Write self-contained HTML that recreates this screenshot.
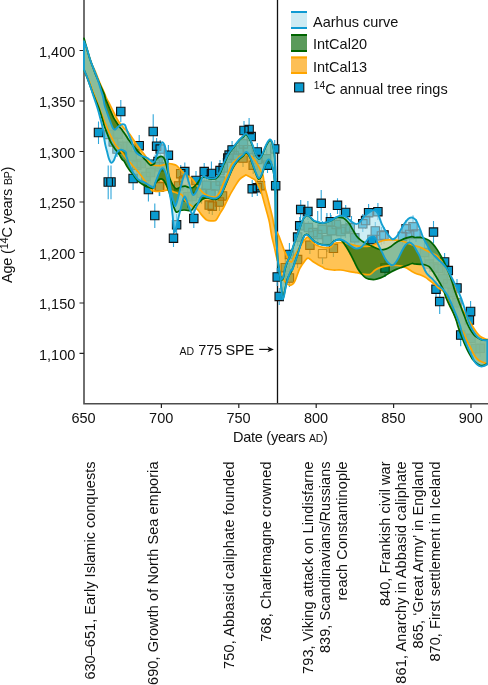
<!DOCTYPE html>
<html><head><meta charset="utf-8">
<style>
html,body{margin:0;padding:0;background:#fff;width:488px;height:685px;overflow:hidden}
svg{position:absolute;left:0;top:0;display:block;will-change:transform}
text{font-family:"Liberation Sans",sans-serif;fill:#111}
</style></head>
<body>
<svg width="488" height="685" viewBox="0 0 488 685">
<!-- AXESBG -->
<g stroke="#4d4d4d" stroke-width="1.6" fill="none">
<path d="M84,0 V403.8 H488"/>
</g>
<g stroke="#222" stroke-width="1.2">
<path d="M79.5,50.5H84 M79.5,101H84 M79.5,151.5H84 M79.5,202H84 M79.5,252.5H84 M79.5,303H84 M79.5,353.4H84"/>
<path d="M161.4,404V408 M238.8,404V408 M316.2,404V408 M393.6,404V408 M471,404V408"/>
</g>
<path d="M277.5,0V403" stroke="#111" stroke-width="1.3"/>
<!-- DATA -->
<defs><clipPath id="pc"><rect x="82.8" y="0" width="405.2" height="403"/></clipPath></defs>
<g clip-path="url(#pc)">
<path d="M108.8,125V145.9M113.4,132.8V151.4M118,125.1V144M122.7,139.8V154.1M127.3,135.5V156.5M132,144.1V167.7M136.6,155.6V172.3M141.3,154.3V169.8M145.9,168.9V182.5M150.5,163.9V183.6M155.2,154.4V173.2M159.8,158.1V174.5M187.7,184.7V207.7M192.3,188.5V203.7M201.6,186.8V203.8M206.3,174.1V193.5M210.9,182.6V199.7M215.5,174.5V194.8M220.2,172.7V187.6M234.1,145V163.3M238.8,141.9V161.7M243.4,137.1V151.3M248,143.4V160.5M257.3,150.1V168.1M266.6,148.4V165.6M308.4,220.9V236.1M313,225V244.4M317.7,226.7V245.8M322.3,220.9V240.4M327,233.4V252M331.6,223.2V241.4M336.3,216.8V231M340.9,222V238.9M345.5,220.9V237.9M350.2,218.9V237.3M354.8,230.7V244.7M424.5,241.5V259.9M429.1,253.6V275.7M433.8,255.2V278.2M438.4,259.9V275.1M443,267.2V286.4M447.7,276.2V294.7M452.3,285V299.8M457,296.4V310.2M470.9,327.2V348M475.5,337.2V355.9M480.2,340.7V357M120.8,100V122M98.5,121.5V144M153.2,114.3V142M108.2,165.6V199.3M111,165.6V199.3M139.2,135V155M156.6,138V156M133.1,166.6V190.1M148.4,179V201.4M154.8,203.4V228M117,140V157M159.7,178V196M160.2,140V158M168.4,145V165M158,153V170M173.5,228V247M176.6,214V234M193.8,209V228M184.8,162.4V180M196,171V190M204.2,163V181M211.4,161.4V183M220,160V180M223.2,158V177M232.1,141V158M227.8,149V167M229.1,146V163M244,121V140M249.1,118V138M251.2,128V146M257.3,143V160M274.7,140V157M275.7,178V194M252.2,180V197M257.3,180V196M267.5,157V173M209.2,196V214M212.3,197V215M219.4,193V211M222.5,187V205M243,150V167M253.2,157V174M260.4,177V194M180.7,165V182M178.6,177V195M183.8,172V189M159.2,178V196M277.2,268V286M279.2,288V305M289.4,243V262M300.7,200V218M307.9,201V220M321.2,190V220.7M337.5,198.2V214M345.7,205V221M299.7,217V234M297.6,228V246M368.6,204V221M362.8,214V232M365.6,212V229M375.3,222V240M381.4,227V245M372,231V248M406.1,220V238M413,215.5V236M409.6,226V243M416,219V242M402.5,228V245M384,227V244M377.9,203V220M433.5,221V243.3M444.6,253V270M448.3,262V279M457,279V296M436,280V298M439.7,292V314M470.6,301V318M469.4,311V329M460.7,325V346.2M309.9,236V254M333.4,239V257M297.6,251V268M285.3,259V276M289.4,269V287M330.4,213V230M385,259V277M317.7,211V226M326.9,213V226M331,215V226M351.5,216V228M300.5,212V222M303,214V224M340,210V222" stroke="#2ea6da" stroke-width="1.1" fill="none"/>
<path d="M104.6,130.2h8.4v8.4h-8.4zM109.2,137.7h8.4v8.4h-8.4zM113.8,130h8.4v8.4h-8.4zM118.5,142.1h8.4v8.4h-8.4zM123.1,142.2h8.4v8.4h-8.4zM127.8,151.8h8.4v8.4h-8.4zM132.4,161.1h8.4v8.4h-8.4zM137.1,159.3h8.4v8.4h-8.4zM141.7,172.2h8.4v8.4h-8.4zM146.3,168.4h8.4v8.4h-8.4zM151,160h8.4v8.4h-8.4zM155.6,162.6h8.4v8.4h-8.4zM183.5,192.5h8.4v8.4h-8.4zM188.1,192.2h8.4v8.4h-8.4zM197.4,189h8.4v8.4h-8.4zM202.1,181h8.4v8.4h-8.4zM206.7,189.5h8.4v8.4h-8.4zM211.3,181.7h8.4v8.4h-8.4zM216,176.9h8.4v8.4h-8.4zM229.9,151.4h8.4v8.4h-8.4zM234.6,145.7h8.4v8.4h-8.4zM239.2,139.7h8.4v8.4h-8.4zM243.8,145.5h8.4v8.4h-8.4zM253.1,155.2h8.4v8.4h-8.4zM262.4,154.6h8.4v8.4h-8.4zM304.2,223.4h8.4v8.4h-8.4zM308.8,228.4h8.4v8.4h-8.4zM313.5,230.3h8.4v8.4h-8.4zM318.1,225.1h8.4v8.4h-8.4zM322.8,235.8h8.4v8.4h-8.4zM327.4,226.5h8.4v8.4h-8.4zM332.1,220.4h8.4v8.4h-8.4zM336.7,227.3h8.4v8.4h-8.4zM341.3,224.9h8.4v8.4h-8.4zM346,223.6h8.4v8.4h-8.4zM350.6,233.6h8.4v8.4h-8.4zM420.3,248.2h8.4v8.4h-8.4zM424.9,259.9h8.4v8.4h-8.4zM429.6,262.7h8.4v8.4h-8.4zM434.2,264.2h8.4v8.4h-8.4zM438.8,274.8h8.4v8.4h-8.4zM443.5,279.6h8.4v8.4h-8.4zM448.1,288.5h8.4v8.4h-8.4zM452.8,298.6h8.4v8.4h-8.4zM466.7,334.1h8.4v8.4h-8.4zM471.3,344.5h8.4v8.4h-8.4zM476,344.1h8.4v8.4h-8.4zM116.6,107.3h8.4v8.4h-8.4zM94.3,128.3h8.4v8.4h-8.4zM149,127.3h8.4v8.4h-8.4zM104,177.8h8.4v8.4h-8.4zM106.8,177.8h8.4v8.4h-8.4zM135,141.5h8.4v8.4h-8.4zM152.4,142h8.4v8.4h-8.4zM128.9,174.3h8.4v8.4h-8.4zM144.2,185.3h8.4v8.4h-8.4zM150.6,211.3h8.4v8.4h-8.4zM112.8,144.8h8.4v8.4h-8.4zM155.5,182.3h8.4v8.4h-8.4zM156,144.9h8.4v8.4h-8.4zM164.2,151h8.4v8.4h-8.4zM153.8,157.3h8.4v8.4h-8.4zM169.3,234h8.4v8.4h-8.4zM172.4,220.6h8.4v8.4h-8.4zM189.6,214.2h8.4v8.4h-8.4zM180.6,167.4h8.4v8.4h-8.4zM191.8,176.3h8.4v8.4h-8.4zM200,167.4h8.4v8.4h-8.4zM207.2,169.3h8.4v8.4h-8.4zM215.8,166.4h8.4v8.4h-8.4zM219,163.7h8.4v8.4h-8.4zM227.9,145.7h8.4v8.4h-8.4zM223.6,153.9h8.4v8.4h-8.4zM224.9,150.9h8.4v8.4h-8.4zM239.8,126.3h8.4v8.4h-8.4zM244.9,125.2h8.4v8.4h-8.4zM247,132.4h8.4v8.4h-8.4zM253.1,147.7h8.4v8.4h-8.4zM270.5,144.7h8.4v8.4h-8.4zM271.5,181.5h8.4v8.4h-8.4zM248,184.6h8.4v8.4h-8.4zM253.1,183.5h8.4v8.4h-8.4zM263.3,161h8.4v8.4h-8.4zM205,200.9h8.4v8.4h-8.4zM208.1,202h8.4v8.4h-8.4zM215.2,197.9h8.4v8.4h-8.4zM218.3,191.7h8.4v8.4h-8.4zM238.8,153.9h8.4v8.4h-8.4zM249,161h8.4v8.4h-8.4zM256.2,181.5h8.4v8.4h-8.4zM176.5,169.5h8.4v8.4h-8.4zM174.4,181.7h8.4v8.4h-8.4zM179.6,176.6h8.4v8.4h-8.4zM155,182.8h8.4v8.4h-8.4zM273,272.8h8.4v8.4h-8.4zM275,292.2h8.4v8.4h-8.4zM285.2,250.2h8.4v8.4h-8.4zM296.5,205.2h8.4v8.4h-8.4zM303.7,207.3h8.4v8.4h-8.4zM317,199.1h8.4v8.4h-8.4zM333.3,201.1h8.4v8.4h-8.4zM341.5,208.3h8.4v8.4h-8.4zM295.5,221.6h8.4v8.4h-8.4zM293.4,232.9h8.4v8.4h-8.4zM364.4,208.5h8.4v8.4h-8.4zM358.6,219.6h8.4v8.4h-8.4zM361.4,216.3h8.4v8.4h-8.4zM371.1,226.8h8.4v8.4h-8.4zM377.2,231.7h8.4v8.4h-8.4zM367.8,235.3h8.4v8.4h-8.4zM401.9,224.6h8.4v8.4h-8.4zM408.8,222.6h8.4v8.4h-8.4zM405.4,230.3h8.4v8.4h-8.4zM411.8,229.8h8.4v8.4h-8.4zM398.3,232.3h8.4v8.4h-8.4zM379.8,230.8h8.4v8.4h-8.4zM373.7,207.5h8.4v8.4h-8.4zM429.3,227.9h8.4v8.4h-8.4zM440.4,257.7h8.4v8.4h-8.4zM444.1,266.4h8.4v8.4h-8.4zM452.8,283.7h8.4v8.4h-8.4zM431.8,285h8.4v8.4h-8.4zM435.5,297.4h8.4v8.4h-8.4zM466.4,307.3h8.4v8.4h-8.4zM465.2,315.9h8.4v8.4h-8.4zM456.5,330.8h8.4v8.4h-8.4zM305.7,241h8.4v8.4h-8.4zM329.2,244.1h8.4v8.4h-8.4zM293.4,255.4h8.4v8.4h-8.4zM281.1,263.5h8.4v8.4h-8.4zM285.2,273.8h8.4v8.4h-8.4zM326.2,217.5h8.4v8.4h-8.4zM380.8,263.8h8.4v8.4h-8.4z" fill="#0a9bd0" stroke="#111" stroke-width="1.1"/>
<path d="M318.3,249.5h8.4v8.4h-8.4z" fill="none" stroke="#333" stroke-width="0.8"/>
<path d="M322.5,257.9V264" stroke="#2ea6da" stroke-width="1.1"/>
<path d="M84,41.8C84.5,43 86,46.3 87,49.3C88,52.3 89.2,56.9 90.1,59.6C91,62.4 91.7,63.9 92.5,65.8C93.3,67.7 94.3,69.1 95.1,71C95.9,72.9 96.7,74.9 97.5,77C98.3,79.1 99,81.1 100,83.4C101,85.7 102.4,88.6 103.5,91C104.6,93.4 105.4,95.8 106.4,98C107.4,100.2 108.5,102 109.5,104C110.5,106 111.6,108 112.6,110.1C113.6,112.1 114.7,114.3 115.7,116.3C116.7,118.2 117.7,120.3 118.7,121.8C119.7,123.3 120.9,124.4 121.8,125.5C122.7,126.6 123.5,127.8 124.3,128.6C125.1,129.4 125.5,129.4 126.5,130.4C127.5,131.4 128.9,133.2 130.1,134.8C131.3,136.5 132.6,138.5 133.8,140.3C135,142.1 136.3,144.1 137.5,145.8C138.7,147.5 140.1,149.3 141.2,150.7C142.3,152.1 143.3,153 144.3,154.4C145.3,155.8 146.5,157.9 147.4,159.2C148.3,160.5 149,161.4 149.8,162.3C150.6,163.2 151.4,164.3 152.3,164.8C153.2,165.3 153.8,165.4 155,165.5C156.2,165.6 157.8,165.7 159.4,165.6C161,165.5 162.7,165 164.3,164.7C165.9,164.3 167.7,163.6 169.2,163.5C170.7,163.4 172.3,164.1 173.5,164.4C174.7,164.8 175.6,164.9 176.6,165.6C177.6,166.3 178.8,167.8 179.7,168.7C180.6,169.6 181.1,170.1 182,171.1C182.9,172.1 183.6,173.2 185.2,174.4C186.8,175.6 189.6,176.3 191.7,178.3C193.8,180.3 195.7,184.1 197.6,186.5C199.5,188.9 201.2,191 202.9,192.6C204.7,194.2 206.1,195 208.1,195.8C210.1,196.6 213.1,197.2 214.7,197.2C216.3,197.1 216.6,196.4 217.5,195.5C218.4,194.6 218.8,194.2 219.9,192C221,189.8 222.6,185.1 223.9,182.1C225.2,179.1 226.5,177.1 227.8,174.2C229.1,171.3 230,167.1 231.5,164.6C233,162.1 235.2,160.8 236.7,159.4C238.1,158 238.7,156.7 240.2,155.9C241.7,155.1 243.8,154.6 245.5,154.6C247.2,154.6 249.2,155 250.7,155.9C252.2,156.8 253.4,158.2 254.7,159.9C256,161.7 257.5,164.4 258.6,166.4C259.7,168.4 260.5,170.3 261.2,171.7C261.9,173.1 262.3,172.7 262.9,175C263.5,177.3 263.9,182.2 264.6,185.8C265.3,189.4 266.4,192.8 267.3,196.3C268.2,199.8 269,203.3 269.9,206.8C270.8,210.3 271.7,214 272.5,217.4C273.3,220.8 273.5,224 274.5,227C275.5,230 277.6,232.9 278.7,235.5C279.8,238.1 280.4,240.2 281.3,242.5C282.2,244.8 283,247.4 283.9,249.6C284.8,251.8 285.8,254 286.6,255.7C287.5,257.4 288.2,258.9 289,260C289.8,261.1 290.7,262.5 291.5,262C292.3,261.5 292.9,259.1 294,257C295.1,254.8 296.8,251.7 298.4,249.1C300,246.5 302.1,243.2 303.6,241.2C305.1,239.2 306.4,237.3 307.6,237.1C308.8,236.9 309.6,239.2 310.6,240.2C311.6,241.2 312.5,242.3 313.7,243.2C314.9,244.1 316.2,245.1 317.8,245.8C319.4,246.5 320.9,247 323,247.3C325.1,247.6 328.3,248 330.2,247.4C332.1,246.8 332.4,244.3 334.2,243.5C335.9,242.7 338.3,242.4 340.7,242.5C343.1,242.6 346,243.2 348.6,243.8C351.2,244.4 353.9,245.4 356.5,245.8C359.1,246.2 362,246.4 364.4,246.4C366.8,246.4 368.6,246.7 370.9,246C373.1,245.3 375.9,243.4 377.9,242.5C379.9,241.6 381.4,240.9 383.1,240.5C384.9,240.1 386.6,240 388.4,239.9C390.1,239.8 391.9,239.8 393.6,239.9C395.4,240 397.1,240.2 398.9,240.5C400.6,240.8 402.4,241.2 404.1,241.8C405.9,242.4 407.6,243.1 409.4,243.8C411.1,244.5 412.8,245.2 414.6,245.8C416.4,246.4 418.4,246.5 420.2,247.2C422,247.9 423.8,249 425.5,249.9C427.2,250.8 428.9,251.6 430.7,252.5C432.4,253.4 434.5,254 436,255.1C437.5,256.2 438.6,257.6 439.9,259.1C441.2,260.6 442.6,262.3 443.9,264.3C445.2,266.3 446.5,268.5 447.8,270.9C449.1,273.3 450.6,276 451.7,278.7C452.8,281.4 453.5,284.4 454.2,287C454.9,289.6 455.4,291.8 456.1,294C456.8,296.2 457.6,298.1 458.3,300C459,301.9 459.8,303.8 460.5,305.5C461.2,307.2 462.1,309.1 462.8,310.5C463.6,311.9 464.2,312.8 465,314C465.8,315.2 466.5,316.3 467.5,318C468.5,319.7 470,322.2 471.1,324C472.2,325.8 473.2,327.4 474.3,329C475.4,330.6 476.4,332.2 477.5,333.5C478.6,334.8 479.4,335.8 480.7,336.7C482,337.6 484.4,338.6 485.5,339C486.6,339.4 487,339.2 487.3,339.3L487.3,363.5C487,363.4 486.3,363.4 485.5,363.2C484.7,362.9 483.5,362.5 482.3,362C481.1,361.5 479.6,361.1 478.3,360C477,358.9 475.5,357.1 474.3,355.2C473.1,353.3 472.3,351.1 471.1,348.7C469.9,346.3 468.2,343.2 467,340.7C465.8,338.2 465,335.7 463.8,333.5C462.6,331.3 461.1,329.5 460,327.5C458.9,325.5 457.9,323.4 457,321.3C456.1,319.2 455.3,317 454.4,315C453.5,313 452.6,311.3 451.8,309.5C451,307.7 450.1,306 449.3,304.2C448.5,302.4 447.6,300.4 446.8,298.5C446,296.6 445.2,293.8 444.5,292.5C443.8,291.2 443.5,291.3 442.4,290.5C441.3,289.7 439.1,288.4 438,287.5C436.9,286.6 437.2,286.3 436,285.3C434.8,284.3 432.4,282.7 430.7,281.4C428.9,280.1 427.2,278.5 425.5,277.4C423.8,276.3 421.6,275.4 420.2,274.8C418.8,274.2 418.6,274.6 417.2,274C415.8,273.4 413.8,272.4 412,271.4C410.2,270.4 408.4,269 406.7,268.1C404.9,267.2 403.2,266.5 401.5,266.1C399.8,265.7 397.9,265.6 396.2,265.5C394.4,265.4 392.8,265.4 391,265.5C389.2,265.6 387.4,265.8 385.7,266.1C383.9,266.4 382.2,266.8 380.5,267.4C378.8,268 376.9,268.8 375.2,270C373.4,271.2 372,273.8 370,274.5C368,275.2 365.4,274.3 363.1,274C360.9,273.7 358.9,273.1 356.5,272.7C354.1,272.3 351.2,271.8 348.6,271.4C346,270.9 343.3,270.2 340.7,270C338.1,269.8 335.5,270.2 332.9,270C330.3,269.8 326.6,269.1 325,268.7C323.4,268.3 324.4,268 323.3,267.4C322.2,266.8 319.9,265.8 318.1,264.8C316.4,263.8 314.5,262.6 312.8,261.5C311.1,260.4 309.5,258.3 308.2,258.2C306.9,258.1 306.3,259.1 304.9,260.9C303.5,262.6 301.4,265.2 299.7,268.7C298,272.2 296.1,279 294.5,281.8C292.9,284.6 291.6,285.2 290.1,285.3C288.6,285.4 286.7,283.8 285.5,282.5C284.3,281.2 283.7,279 283,277.6C282.3,276.2 281.9,275.6 281.3,274.1C280.7,272.7 280.1,270.9 279.5,268.9C278.9,266.8 278.4,264.1 277.8,261.8C277.2,259.5 276.6,257.3 276,254.8C275.4,252.3 275,250.1 274.3,246.9C273.6,243.7 272.4,239.6 271.6,235.5C270.8,231.4 270.2,226.2 269.5,222.6C268.8,219 268.2,217.2 267.3,213.9C266.4,210.6 265.3,206.5 264.3,203C263.3,199.5 262.5,195.9 261.5,193C260.5,190.1 259.4,187.7 258.3,185.5C257.2,183.3 256,181.2 255,180C254,178.8 253.6,179 252.1,178.2C250.6,177.4 247.4,175.4 246.2,175C245,174.6 246.1,174.8 245,175.5C243.9,176.2 241.4,177.4 239.6,179.4C237.8,181.4 236.2,184.5 234.4,187.3C232.7,190.2 230.8,193.2 229.1,196.5C227.3,199.8 225.4,204.2 223.9,207C222.4,209.8 221.2,211.4 219.9,213.6C218.6,215.8 217.3,218.9 216,220.1C214.7,221.3 213.6,220.8 212.1,220.8C210.6,220.8 208.6,221.1 206.8,220.1C205.1,219.1 203.1,216.7 201.6,214.9C200.1,213.2 199.2,211.1 197.6,209.6C195.9,208.1 193.8,207.4 191.7,205.9C189.6,204.4 186.8,202.4 185.2,200.6C183.6,198.8 183.2,196.3 182,195.1C180.8,193.9 179.1,193.8 177.8,193.3C176.5,192.8 175.3,192.4 174.1,192C172.9,191.6 171.6,191.1 170.4,190.8C169.2,190.5 168,190.2 166.8,190.2C165.6,190.2 164.3,190.6 163.1,190.8C161.9,191 160.6,191.3 159.4,191.4C158.2,191.5 156.9,191.5 155.7,191.4C154.5,191.3 152.8,191.1 152,190.8C151.2,190.5 151.9,190.6 151.2,189.5C150.4,188.4 148.7,186.1 147.5,184.5C146.3,182.9 145.4,181.5 144.3,180.1C143.2,178.7 142.5,177.5 141.2,175.8C139.9,174.1 137.8,171.4 136.3,169.7C134.9,168 133.6,166.8 132.5,165.5C131.4,164.2 130.5,162.8 129.5,161.7C128.5,160.5 127.4,159.6 126.5,158.6C125.6,157.6 124.8,156.5 124,155.5C123.2,154.5 122.7,153.5 121.8,152.4C120.9,151.3 119.7,149.9 118.7,148.7C117.7,147.5 116.7,146.6 115.7,145.1C114.7,143.6 113.6,141.4 112.6,139.5C111.6,137.6 110.5,135.7 109.5,133.4C108.5,131.2 107.2,127.9 106.4,126C105.6,124.1 105.4,123.8 104.6,121.8C103.8,119.8 102.5,116.5 101.5,113.8C100.5,111.1 99.6,108.6 98.5,105.8C97.4,103 96.2,99.7 95.1,96.9C94,94.1 93,91.7 92,88.9C91,86.1 90.2,83.5 88.9,80.3C87.6,77.1 84.8,71.5 84,69.8Z" fill="#ffa500" fill-opacity="0.667"/>
<path d="M84,38.3C84.5,40.1 86,45.5 87,49C88,52.5 89,56.3 90.1,59.6C91.2,62.9 92.5,66.2 93.5,68.8C94.5,71.4 94.9,72.7 96,75.3C97.1,77.9 98.6,81.4 100,84.6C101.4,87.8 103.4,92 104.3,94.4C105.2,96.8 104.9,97.4 105.5,99C106.1,100.6 106.8,101.9 107.7,104C108.6,106.1 109.8,109.1 110.8,111.4C111.8,113.8 112.8,116.2 113.8,118.1C114.8,120 116,121.6 116.9,123C117.8,124.4 118.5,125.5 119.4,126.7C120.3,127.9 121.5,129.2 122.4,130.4C123.3,131.6 124,132.8 124.9,134.1C125.8,135.4 126.6,136.8 127.7,138.4C128.8,140 130.3,142 131.4,143.4C132.5,144.8 133.4,145.8 134.4,147C135.4,148.2 136.5,149.5 137.5,150.7C138.5,151.9 139.6,153.2 140.6,154.4C141.6,155.6 142.7,157 143.7,158.1C144.7,159.2 145.7,160.1 146.5,161C147.3,161.9 147.9,162.8 148.6,163.5C149.2,164.2 149.8,165 150.4,165.2C151,165.4 151.6,165.1 152.3,164.8C153,164.5 154,164.2 154.5,163.5C155,162.8 154.5,161.7 155.1,160.7C155.7,159.7 157.1,158.4 158.1,157.7C159.1,157 160.3,156.4 161.2,156.4C162.1,156.4 163,156.8 163.7,157.7C164.4,158.6 165,160.5 165.5,162C166,163.5 166.4,165.2 166.8,166.9C167.2,168.6 167.5,170 168,172C168.5,174 169.3,177.1 170,179C170.7,180.9 171.1,182 172.1,183.6C173.1,185.2 174.5,188.3 176,188.8C177.5,189.3 179.7,187.2 181.2,186.8C182.7,186.4 183.9,186.1 185.2,186.2C186.5,186.3 187.8,187.3 189.1,187.5C190.4,187.7 191.7,188.2 193,187.5C194.3,186.8 195.7,185.1 197,183.6C198.3,182.1 199.6,179.4 200.9,178.3C202.2,177.2 203.5,176.9 205,177C206.5,177.1 208.2,178.8 210,179C211.8,179.2 214.3,179.4 216,178.5C217.7,177.6 218.7,175.9 220,173.5C221.3,171.1 222.5,167.3 224,164C225.5,160.7 227.3,156.3 229,153.5C230.7,150.7 232.3,149.2 234,147C235.7,144.8 237.5,142.2 239,140.5C240.5,138.8 241.8,138 243,137C244.2,136 245.1,134.2 246.2,134.5C247.3,134.8 248.3,136.6 249.4,138.5C250.5,140.4 251.6,143.2 252.7,146C253.8,148.8 254.9,152.8 256,155C257.1,157.2 258.2,159.2 259.3,159C260.4,158.8 261.4,156.3 262.6,154C263.8,151.7 265.3,147.2 266.5,145C267.7,142.8 268.8,140.8 269.8,140.5C270.8,140.2 271.6,141.2 272.4,143.5C273.2,145.8 273.9,150.2 274.4,154C274.9,157.8 275,161.5 275.2,166C275.4,170.5 275.4,175.2 275.5,181C275.6,186.8 275.6,193.5 275.6,201C275.7,208.5 275.6,218.9 275.8,226C276,233.1 276.3,238 276.6,243.5C276.9,249 277.2,254.8 277.6,259C278,263.2 278.5,266 279,269C279.5,272 280,275.2 280.5,277C281,278.8 281.7,280 282.2,280C282.7,280 283,278.8 283.5,277C284,275.2 284.3,271.6 285,269C285.7,266.4 286.7,263.4 287.6,261.2C288.5,259 289.2,258.7 290.3,255.7C291.4,252.7 293.1,246.6 294.3,243.2C295.5,239.8 296.4,237.6 297.3,235C298.2,232.4 299,230.2 299.9,227.8C300.8,225.4 301.5,222.6 302.4,220.7C303.2,218.8 304.1,217.5 305,216.6C305.9,215.7 306.7,215.3 307.6,215.5C308.5,215.7 309.6,216.7 310.6,217.6C311.6,218.5 312.5,219.9 313.7,220.7C314.9,221.5 316.2,221.8 317.8,222.2C319.4,222.6 320.9,223.4 323,223.2C325.1,223 328.1,221.9 330.2,221C332.3,220.1 334.2,218.4 335.5,217.8C336.8,217.2 336.8,217.5 338.1,217.5C339.4,217.5 341.6,217.1 343.4,218C345.1,218.9 347.1,220.9 348.6,222.8C350.1,224.7 351.3,227.2 352.6,229.4C353.9,231.6 355.2,234.2 356.5,235.9C357.8,237.7 359.1,238.8 360.4,239.9C361.7,241 362.9,241.6 364.4,242.5C365.9,243.4 367.8,244.2 369.6,245.1C371.4,246 373.4,246.9 375.2,247.7C377,248.5 378.8,249.5 380.5,249.7C382.2,249.9 383.9,249.6 385.7,249.1C387.4,248.6 389.2,247.5 391,246.4C392.8,245.3 394.4,243.6 396.2,242.5C397.9,241.4 399.8,240.7 401.5,239.9C403.2,239.1 404.9,238.5 406.7,237.9C408.4,237.3 410.6,236.7 412,236.6C413.4,236.5 413.6,237.4 415,237.5C416.4,237.6 418.4,237.2 420.2,237.4C421.9,237.6 424,238.1 425.5,238.7C427,239.2 428.1,239.7 429.4,240.7C430.7,241.7 432.1,243.1 433.4,244.6C434.7,246.1 436,247.9 437.3,249.9C438.6,251.9 439.9,254 441.2,256.4C442.5,258.8 443.9,261.4 445.2,264.3C446.5,267.2 447.9,270.4 449.1,273.5C450.3,276.6 451.6,280.3 452.5,283C453.4,285.7 453.8,287.6 454.4,289.5C455,291.4 455.5,292.6 456.1,294.4C456.8,296.2 457.6,298.2 458.3,300.1C459,302 459.8,304.1 460.5,305.8C461.2,307.6 461.7,309 462.3,310.6C462.9,312.2 463.4,313.4 464.2,315.5C465,317.6 466,320.7 467,323C468,325.3 469.2,327.6 470.3,329.5C471.4,331.4 472.6,333.1 473.5,334.3C474.4,335.5 475.1,336 476,336.7C476.9,337.4 478,338.1 479,338.6C480,339.1 480.6,339.5 482,339.8C483.4,340.1 486.4,340.1 487.3,340.2L487.3,363.6C486.7,363.9 485,364.9 483.9,365.2C482.8,365.5 481.8,365.8 480.7,365.6C479.6,365.4 478.7,364.9 477.5,364C476.3,363.1 474.6,361.5 473.5,360.3C472.4,359.1 472,358.3 471.1,356.8C470.2,355.3 469,353.2 467.9,351.1C466.8,349 465.7,346.4 464.6,343.9C463.5,341.4 462.5,338.7 461.4,335.9C460.3,333.1 459,329.5 458.2,327C457.4,324.5 457.1,322.9 456.5,321C455.9,319.1 455.2,317.3 454.4,315.4C453.6,313.5 452.7,311.5 451.8,309.7C450.9,307.9 450,306.2 449.1,304.4C448.2,302.6 447.4,301 446.5,298.8C445.6,296.6 444.8,293.2 443.9,291C443,288.8 442.3,287.4 441.2,285.3C440.1,283.2 438.6,280.9 437.3,278.7C436,276.5 434.7,274.2 433.4,272.2C432.1,270.2 430.7,268.1 429.4,266.9C428.1,265.7 427,265.4 425.5,265C424,264.6 421.9,264.5 420.2,264.3C418.4,264.1 416.4,264.1 415,264C413.6,263.9 413.4,263.2 412,263.5C410.6,263.8 408.4,264.9 406.7,265.5C404.9,266.1 403.2,266.8 401.5,267.4C399.8,268 397.9,268.6 396.2,269.4C394.4,270.2 392.8,271 391,272C389.2,273 387.4,274.3 385.7,275.3C383.9,276.3 382.3,277.2 380.5,277.9C378.7,278.6 376.8,279.3 375,279.5C373.2,279.7 371.2,279.5 369.6,279.2C368.1,278.9 367,278.8 365.7,277.9C364.4,277 363,275.5 361.7,274C360.4,272.5 359.1,270.9 357.8,268.7C356.5,266.5 355.2,263.5 353.9,260.9C352.6,258.3 351.2,255.4 349.9,253C348.6,250.6 347.5,248.6 346,246.4C344.5,244.2 342.7,240.8 340.7,239.9C338.7,239 335.9,240.2 334.2,241C332.4,241.8 332.1,244.3 330.2,244.9C328.3,245.5 325.1,245.1 323,244.8C320.9,244.5 319.4,244 317.8,243.3C316.2,242.6 314.9,241.6 313.7,240.7C312.5,239.8 311.6,238.7 310.6,237.7C309.6,236.7 308.6,234.9 307.6,234.6C306.6,234.2 305.5,234.2 304.5,235.6C303.5,237 302.4,240.1 301.4,242.8C300.4,245.5 299.3,248.9 298.3,252C297.3,255.1 296.3,258.2 295.3,261.2C294.3,264.2 293.5,266.8 292.2,269.8C290.9,272.8 288.6,275.6 287.4,279C286.2,282.4 285.6,287 285,290C284.4,293 283.9,295.8 283.5,297C283.1,298.2 282.6,298.7 282.3,297.5C282,296.3 281.8,293.1 281.5,290C281.2,286.9 280.8,281.7 280.4,278.6C280,275.5 279.5,274.5 279.1,271.6C278.7,268.7 278.2,265.4 277.8,261.1C277.4,256.8 277.2,251 276.8,246C276.4,241 275.9,236.8 275.7,231C275.5,225.2 275.6,217.7 275.5,211C275.4,204.3 275.4,196.3 275.2,191C275,185.7 274.8,182.5 274.4,179C274,175.5 273.8,172.9 273.1,170.1C272.4,167.3 271.3,163.7 270.4,162.2C269.5,160.7 268.8,160 267.8,160.9C266.8,161.8 265.6,164.8 264.5,167.4C263.4,170 262.2,174.6 261.2,176.6C260.2,178.6 259.5,179.6 258.6,179.2C257.7,178.8 257,176.4 256,174C255,171.6 253.8,167.8 252.7,164.8C251.6,161.9 250.5,158.3 249.4,156.3C248.3,154.3 247.3,153 246.2,153C245.1,153 244.2,155.1 242.9,156.3C241.6,157.5 239.7,158.5 238.1,160.4C236.5,162.3 234.6,164.8 233.1,167.5C231.6,170.2 230.4,173.4 229.1,176.5C227.8,179.6 226.5,182.9 225.2,186C223.9,189.1 222.5,192.9 221.2,195C219.9,197.1 218.6,198.1 217.3,198.8C216,199.6 215,199.6 213.4,199.5C211.8,199.4 209.7,198.1 208,198C206.3,197.9 204.4,198.3 203,199C201.6,199.7 200.9,200.9 199.6,202C198.3,203.1 196.3,204.1 195,205.5C193.7,206.9 192.7,209.6 191.5,210.4C190.3,211.2 189.2,210.6 188,210.5C186.8,210.4 185.3,210 184,210C182.7,210 181.3,210.2 180,210.5C178.7,210.8 177.3,212.8 176.2,212C175.1,211.2 174.5,209.2 173.4,206C172.3,202.8 170.6,196.2 169.4,192.7C168.2,189.1 167.1,186.8 166.1,184.7C165.1,182.6 164.5,181.4 163.7,180.4C162.9,179.4 162,178.9 161.2,178.8C160.4,178.7 159.7,179.1 158.8,179.8C157.9,180.5 156.5,181.5 155.7,182.8C154.9,184.1 154.8,186.6 154,187.5C153.2,188.4 152.1,188.2 151,188.1C149.9,188 148.6,187.4 147.4,186.9C146.2,186.4 144.9,185.7 143.7,185C142.5,184.3 141.2,183.6 140,182.6C138.8,181.6 137.4,180.2 136.3,178.9C135.2,177.6 134.2,175.9 133.2,174.6C132.2,173.3 131.1,172.2 130.1,170.9C129.1,169.6 128.1,168.2 127.1,166.6C126.1,165 124.8,162.2 124,161.1C123.2,160 123.2,160.8 122.4,159.8C121.6,158.8 120.4,156.4 119.4,154.9C118.4,153.4 117.3,152 116.3,150.6C115.3,149.2 114.2,147.9 113.2,146.3C112.2,144.7 111.1,143 110.1,140.8C109.1,138.7 108,135.8 107.1,133.4C106.2,131 105.2,128.6 104.5,126.5C103.8,124.4 103.6,123.3 102.8,120.6C102,117.9 100.8,113.8 99.7,110.5C98.6,107.2 97.3,104.2 96,101C94.7,97.8 93.3,94.5 92,91C90.7,87.5 89.3,83.5 88,80C86.7,76.5 84.7,71.7 84,70Z" fill="#006400" fill-opacity="0.65"/>
<path d="M84,41.3C84.5,42.6 86,46 87,49C88,52 89,56.1 90.1,59.5C91.2,62.9 92.7,66.2 93.8,69.2C94.9,72.2 96,74.6 96.9,77.2C97.8,79.8 98.7,82.3 99.4,84.6C100.1,86.8 100.6,88.7 101.2,90.7C101.8,92.8 102.5,94.5 103.1,96.9C103.7,99.3 103.8,102.3 104.6,105.2C105.4,108.1 106.7,111.4 107.7,114.4C108.7,117.4 109.9,120.6 110.8,123C111.7,125.4 112.5,127.5 113.2,128.6C113.9,129.7 114.3,129.8 115.1,129.5C115.9,129.2 117,127.6 118.1,126.7C119.2,125.8 120.7,124.6 121.8,124.3C122.9,124 124.1,124.1 124.9,124.9C125.7,125.7 125.8,127.5 126.5,129.2C127.2,130.8 128.1,132.9 128.9,134.8C129.7,136.8 130.7,139 131.4,140.9C132.1,142.8 132.6,144.8 133.2,146.4C133.8,148 134.4,149.5 135.1,150.7C135.8,151.9 136.6,153 137.5,153.8C138.4,154.6 139.5,155.1 140.6,155.6C141.7,156.1 143.2,156.5 144.3,156.9C145.4,157.3 146.5,157.6 147.4,158.1C148.3,158.6 149,159.2 149.8,159.8C150.6,160.4 151.5,161.2 152.3,161.5C153.1,161.8 153.9,162 154.5,161.5C155.1,161 155.1,160 155.7,158.3C156.3,156.6 157.3,153.7 158.1,151.5C158.9,149.3 159.6,146.5 160.3,145C161,143.5 161.7,142.4 162.4,142.3C163.1,142.2 163.8,143.5 164.3,144.5C164.8,145.5 165.1,146.7 165.5,148.4C165.9,150.2 166.3,152.7 166.6,155C166.9,157.3 167.2,159.8 167.4,162C167.6,164.2 167.7,165.4 168,168.5C168.3,171.6 168.8,177.1 169.2,180.4C169.6,183.7 169.9,185.6 170.4,188.4C170.9,191.2 171.7,194.6 172.3,197C172.9,199.4 173.6,201.6 174.1,203.1C174.6,204.6 174.7,206.5 175.3,206C175.9,205.5 176.6,203.3 177.5,200C178.4,196.7 179.7,190.5 181,186C182.3,181.5 183.9,173.5 185.2,173C186.5,172.5 187.7,179.3 189,183C190.3,186.7 191.5,194.2 193,195C194.5,195.8 196.3,191.2 198,188C199.7,184.8 201.7,177.8 203,176C204.3,174.2 204.8,177.1 206,177.5C207.2,177.9 208.9,178.4 210.5,178.4C212.1,178.4 214.2,178.7 215.7,177.7C217.2,176.7 218.4,174.9 219.7,172.5C221,170.1 222.1,166.6 223.6,163.3C225.1,160 227.2,155.7 228.9,152.8C230.7,150 232.3,148.4 234.1,146.2C235.8,144 237.9,141.4 239.4,139.7C240.9,138 241.8,137.2 242.9,136.2C244,135.2 245.1,133.4 246.2,133.6C247.3,133.8 248.3,135.6 249.4,137.6C250.5,139.6 251.6,142.6 252.7,145.4C253.8,148.2 254.9,152.4 256,154.6C257.1,156.8 258.2,158.8 259.3,158.6C260.4,158.4 261.4,155.7 262.6,153.3C263.8,150.9 265.3,146.4 266.5,144.1C267.7,141.8 268.8,139.7 269.8,139.5C270.8,139.3 271.6,140.5 272.4,142.8C273.2,145.1 273.9,149.6 274.4,153.3C274.9,157 275,160.6 275.2,165C275.4,169.4 275.4,174.2 275.5,180C275.6,185.8 275.6,192.5 275.6,200C275.7,207.5 275.6,217.9 275.8,225C276,232.1 276.3,237 276.6,242.5C276.9,248 277.2,253.8 277.6,258C278,262.2 278.5,265 279,268C279.5,271 280,274.2 280.5,276C281,277.8 281.7,279 282.2,279C282.7,279 283,277.8 283.5,276C284,274.2 284.3,270.5 285,268C285.7,265.5 286.7,263.1 287.6,261C288.5,258.9 289.2,258.5 290.3,255.5C291.4,252.5 293.1,246.4 294.3,243C295.5,239.6 296.4,237.4 297.3,234.8C298.2,232.2 299,230 299.9,227.6C300.8,225.2 301.5,222.4 302.4,220.5C303.2,218.6 304.1,217.3 305,216.4C305.9,215.5 306.7,215.1 307.6,215.3C308.5,215.5 309.6,216.5 310.6,217.4C311.6,218.3 312.5,219.7 313.7,220.5C314.9,221.3 316.2,221.6 317.8,222C319.4,222.4 320.9,223.2 323,223C325.1,222.8 328.1,221.7 330.2,220.8C332.3,219.9 333.8,218.5 335.5,217.6C337.2,216.7 338.9,215.7 340.7,215.6C342.4,215.5 344.2,215.9 346,216.9C347.8,217.9 349.4,220.3 351.2,221.5C352.9,222.7 355,224.1 356.5,224.1C358,224.1 359.1,222.8 360.4,221.5C361.7,220.2 362.9,217.7 364.4,216.2C365.9,214.7 368,213.3 369.6,212.3C371.2,211.3 372.5,209.8 373.9,210C375.3,210.2 376.6,211.2 377.9,213.6C379.2,215.9 380.3,220.8 381.8,224.1C383.3,227.4 385.4,230.8 387.1,233.3C388.9,235.8 390.8,238.5 392.3,239.2C393.8,239.8 394.9,238.6 396.2,237.2C397.5,235.8 398.9,232.9 400.2,230.7C401.5,228.5 402.8,226.1 404.1,224.1C405.4,222.1 406.8,220 408.1,218.9C409.4,217.8 410.7,217.4 412,217.6C413.3,217.8 414.6,218.1 415.9,220C417.2,221.9 418.8,226.2 420,229C421.2,231.8 421.8,234.4 422.9,237C424,239.6 425.5,242.1 426.8,244.5C428.1,246.9 429.4,249.6 430.7,251.5C432,253.4 433.4,254.6 434.7,256C436,257.4 437.3,258.8 438.6,260C439.9,261.2 441.3,262.1 442.6,263.5C443.9,264.9 445.2,266.3 446.5,268.2C447.8,270.1 449.1,272.5 450.4,275C451.7,277.5 453.1,280.5 454.4,283C455.6,285.5 457,288.1 457.9,290C458.8,291.9 459,292.7 459.6,294.4C460.2,296.1 461.1,298.1 461.8,300.1C462.5,302.1 463.2,304.2 464,306.5C464.8,308.8 465.4,311.1 466.3,314C467.2,316.9 468.4,321.1 469.5,323.8C470.6,326.5 471.6,328.4 472.7,330.3C473.8,332.2 474.8,333.8 475.9,335.1C477,336.4 478,337.5 479.1,338.3C480.2,339.1 481.2,339.6 482.3,339.9C483.4,340.2 484.7,340.2 485.5,340.3C486.3,340.4 487,340.3 487.3,340.3L487.3,364.4C486.7,364.7 485,365.7 483.9,366C482.8,366.3 481.8,366.6 480.7,366.4C479.6,366.2 478.6,365.7 477.5,364.8C476.4,363.9 475.1,362.4 474.3,361.2C473.5,360 473.5,359.3 472.7,357.6C471.9,355.9 470.6,353.4 469.5,351.1C468.4,348.8 467.3,346.4 466.2,343.9C465.1,341.4 464.1,339 463,335.9C461.9,332.8 460.8,328.1 459.8,325C458.8,321.9 457.8,319.3 457,317.1C456.2,314.9 455.5,313.6 454.8,311.9C454.1,310.1 453.4,308.5 452.6,306.6C451.8,304.7 450.9,302.4 450,300.5C449.1,298.6 448.3,296.9 447.4,295.3C446.4,293.7 445.4,292.3 444.3,290.9C443.2,289.5 441.6,287.9 440.5,287C439.4,286.1 439.4,286.8 438,285.4C436.6,284 434,280.7 432.1,278.7C430.2,276.7 428.3,275.7 426.8,273.5C425.3,271.3 424,268.4 422.9,265.6C421.8,262.9 420.9,259.3 420,257C419.1,254.7 418.3,253.7 417.2,251.7C416.1,249.7 414.6,246.6 413.3,245.1C412,243.6 410.7,242.5 409.4,242.5C408.1,242.5 406.7,243.6 405.4,245.1C404.1,246.6 402.8,249.3 401.5,251.7C400.2,254.1 398.9,257.4 397.6,259.6C396.3,261.8 394.9,264.1 393.6,264.8C392.3,265.6 391,265 389.7,264.1C388.4,263.2 387,261.7 385.7,259.6C384.4,257.5 383.1,254.3 381.8,251.7C380.5,249.1 379,246.2 377.9,243.8C376.8,241.4 375.9,238.7 375,237.5C374.1,236.3 373.3,236.4 372.2,236.6C371.1,236.8 369.6,237.4 368.3,238.6C367,239.8 365.7,242.3 364.4,243.8C363.1,245.3 361.9,246.9 360.4,247.7C358.9,248.5 356.9,248.8 355.2,248.4C353.4,248 351.6,246.3 349.9,245.1C348.1,243.9 346.4,242.2 344.7,241.2C342.9,240.2 341.1,239.2 339.4,239.2C337.6,239.2 335.7,240.2 334.2,241.2C332.7,242.2 332.1,244.5 330.2,245.1C328.3,245.7 325.1,245.3 323,245C320.9,244.7 319.4,244.2 317.8,243.5C316.2,242.8 314.9,241.8 313.7,240.9C312.5,240 311.6,238.9 310.6,237.9C309.6,236.9 308.6,235.2 307.6,234.8C306.6,234.5 305.5,234.4 304.5,235.8C303.5,237.2 302.4,240.3 301.4,243C300.4,245.7 299.3,249.1 298.3,252.2C297.3,255.3 296.3,258.4 295.3,261.4C294.3,264.4 292.9,268.6 292.2,270C291.5,271.4 292,268.3 291.2,270C290.4,271.7 288.4,276.5 287.4,280C286.4,283.5 285.6,288 285,291C284.4,294 283.9,296.8 283.5,298C283.1,299.2 282.6,299.8 282.3,298.5C282,297.2 281.8,293.5 281.5,290C281.2,286.5 280.8,280.8 280.4,277.6C280,274.4 279.5,273.5 279.1,270.6C278.7,267.7 278.2,264.4 277.8,260.1C277.4,255.8 277.2,250 276.8,245C276.4,240 275.9,235.8 275.7,230C275.5,224.2 275.6,216.7 275.5,210C275.4,203.3 275.4,195.3 275.2,190C275,184.7 274.8,181.5 274.4,178C274,174.5 273.8,171.9 273.1,169.1C272.4,166.3 271.3,162.7 270.4,161.2C269.5,159.7 268.8,159 267.8,159.9C266.8,160.8 265.6,163.8 264.5,166.4C263.4,169 262.2,173.6 261.2,175.6C260.2,177.6 259.5,178.6 258.6,178.2C257.7,177.8 257,175.4 256,173C255,170.6 253.8,166.8 252.7,163.8C251.6,160.9 250.5,157.3 249.4,155.3C248.3,153.3 247.3,152 246.2,152C245.1,152 244.2,154.1 242.9,155.3C241.6,156.5 239.7,157.5 238.1,159.4C236.5,161.3 234.6,163.8 233.1,166.5C231.6,169.2 230.4,172.5 229.1,175.5C227.8,178.5 226.5,181.6 225.2,184.7C223.9,187.8 222.5,191.7 221.2,193.9C219.9,196.1 218.6,197 217.3,197.8C216,198.6 214.9,198.6 213.4,198.5C211.9,198.4 209.8,197.6 208.1,197.2C206.3,196.8 204.2,195.6 202.9,195.8C201.6,196 200.9,197.4 200.2,198.5C199.5,199.6 199.2,200.9 198.5,202.5C197.8,204.1 196.8,205.9 195.9,207.8C195,209.7 194,213.1 193.3,214C192.6,214.9 192.2,214.2 191.5,213C190.8,211.8 189.9,209.5 188.9,206.9C187.9,204.3 186.3,198.8 185.4,197.3C184.5,195.8 184.3,196.5 183.6,198.1C182.9,199.7 182,202.9 181,206.9C180,210.9 178.6,217.6 177.5,221.8C176.4,226 175.2,233 174.4,232C173.6,231 173.2,221 172.7,216C172.1,211 171.6,205.5 171.1,201.9C170.6,198.3 170.3,197.3 169.8,194.5C169.3,191.7 168.8,188.2 168.3,185.3C167.8,182.4 167.4,179.7 166.8,177.3C166.2,174.9 165.6,172.6 164.9,171.1C164.2,169.6 163.5,168.3 162.8,168.1C162.1,167.9 161.4,168.7 160.6,169.9C159.8,171.1 159,173.2 158.1,175.4C157.2,177.7 155.8,181.4 155.1,183.4C154.4,185.4 154.6,186.9 154,187.5C153.4,188.1 152.6,187.3 151.7,186.9C150.8,186.5 149.7,185.7 148.6,185C147.5,184.3 146.1,183.2 144.9,182.6C143.7,182 142.4,181.9 141.2,181.3C140,180.7 138.6,180 137.5,178.9C136.4,177.8 135.4,176.1 134.4,174.6C133.4,173.1 132.3,171.5 131.4,169.7C130.5,167.8 129.7,165.7 128.9,163.5C128.1,161.3 127,158 126.5,156.8C126,155.6 126.3,157.1 126.2,156.4C126.1,155.7 126.4,153.4 126,152.4C125.6,151.4 124.6,151.1 123.7,150.6C122.8,150.1 121.6,149.5 120.6,149.7C119.6,149.9 118.3,150.8 117.5,151.8C116.7,152.8 116.3,154.1 115.7,155.5C115.1,156.9 114.5,159.2 113.8,160.4C113.1,161.6 112.2,163.2 111.4,162.9C110.6,162.6 109.6,160.4 108.9,158.6C108.2,156.8 107.7,154.2 107.1,151.8C106.5,149.4 105.8,147.2 105.2,144.4C104.6,141.6 104.1,138 103.7,135.2C103.3,132.4 103.1,129.9 102.6,127.5C102.1,125.1 101.6,123.3 100.9,120.6C100.2,117.9 99.3,114.3 98.5,111.4C97.7,108.5 96.8,105.8 96,103.4C95.2,101 94.6,99.2 93.8,96.9C93,94.6 92.2,92 91.4,89.5C90.6,87 89.7,84.4 88.9,82.1C88.1,79.8 87.3,77.5 86.5,75.4C85.7,73.3 84.4,70.6 84,69.6Z" fill="#ace3ee" fill-opacity="0.6"/>
<g fill="none" stroke-linejoin="round" stroke-linecap="round">
<path d="M84,41.8C84.5,43 86,46.3 87,49.3C88,52.3 89.2,56.9 90.1,59.6C91,62.4 91.7,63.9 92.5,65.8C93.3,67.7 94.3,69.1 95.1,71C95.9,72.9 96.7,74.9 97.5,77C98.3,79.1 99,81.1 100,83.4C101,85.7 102.4,88.6 103.5,91C104.6,93.4 105.4,95.8 106.4,98C107.4,100.2 108.5,102 109.5,104C110.5,106 111.6,108 112.6,110.1C113.6,112.1 114.7,114.3 115.7,116.3C116.7,118.2 117.7,120.3 118.7,121.8C119.7,123.3 120.9,124.4 121.8,125.5C122.7,126.6 123.5,127.8 124.3,128.6C125.1,129.4 125.5,129.4 126.5,130.4C127.5,131.4 128.9,133.2 130.1,134.8C131.3,136.5 132.6,138.5 133.8,140.3C135,142.1 136.3,144.1 137.5,145.8C138.7,147.5 140.1,149.3 141.2,150.7C142.3,152.1 143.3,153 144.3,154.4C145.3,155.8 146.5,157.9 147.4,159.2C148.3,160.5 149,161.4 149.8,162.3C150.6,163.2 151.4,164.3 152.3,164.8C153.2,165.3 153.8,165.4 155,165.5C156.2,165.6 157.8,165.7 159.4,165.6C161,165.5 162.7,165 164.3,164.7C165.9,164.3 167.7,163.6 169.2,163.5C170.7,163.4 172.3,164.1 173.5,164.4C174.7,164.8 175.6,164.9 176.6,165.6C177.6,166.3 178.8,167.8 179.7,168.7C180.6,169.6 181.1,170.1 182,171.1C182.9,172.1 183.6,173.2 185.2,174.4C186.8,175.6 189.6,176.3 191.7,178.3C193.8,180.3 195.7,184.1 197.6,186.5C199.5,188.9 201.2,191 202.9,192.6C204.7,194.2 206.1,195 208.1,195.8C210.1,196.6 213.1,197.2 214.7,197.2C216.3,197.1 216.6,196.4 217.5,195.5C218.4,194.6 218.8,194.2 219.9,192C221,189.8 222.6,185.1 223.9,182.1C225.2,179.1 226.5,177.1 227.8,174.2C229.1,171.3 230,167.1 231.5,164.6C233,162.1 235.2,160.8 236.7,159.4C238.1,158 238.7,156.7 240.2,155.9C241.7,155.1 243.8,154.6 245.5,154.6C247.2,154.6 249.2,155 250.7,155.9C252.2,156.8 253.4,158.2 254.7,159.9C256,161.7 257.5,164.4 258.6,166.4C259.7,168.4 260.5,170.3 261.2,171.7C261.9,173.1 262.3,172.7 262.9,175C263.5,177.3 263.9,182.2 264.6,185.8C265.3,189.4 266.4,192.8 267.3,196.3C268.2,199.8 269,203.3 269.9,206.8C270.8,210.3 271.7,214 272.5,217.4C273.3,220.8 273.5,224 274.5,227C275.5,230 277.6,232.9 278.7,235.5C279.8,238.1 280.4,240.2 281.3,242.5C282.2,244.8 283,247.4 283.9,249.6C284.8,251.8 285.8,254 286.6,255.7C287.5,257.4 288.2,258.9 289,260C289.8,261.1 290.7,262.5 291.5,262C292.3,261.5 292.9,259.1 294,257C295.1,254.8 296.8,251.7 298.4,249.1C300,246.5 302.1,243.2 303.6,241.2C305.1,239.2 306.4,237.3 307.6,237.1C308.8,236.9 309.6,239.2 310.6,240.2C311.6,241.2 312.5,242.3 313.7,243.2C314.9,244.1 316.2,245.1 317.8,245.8C319.4,246.5 320.9,247 323,247.3C325.1,247.6 328.3,248 330.2,247.4C332.1,246.8 332.4,244.3 334.2,243.5C335.9,242.7 338.3,242.4 340.7,242.5C343.1,242.6 346,243.2 348.6,243.8C351.2,244.4 353.9,245.4 356.5,245.8C359.1,246.2 362,246.4 364.4,246.4C366.8,246.4 368.6,246.7 370.9,246C373.1,245.3 375.9,243.4 377.9,242.5C379.9,241.6 381.4,240.9 383.1,240.5C384.9,240.1 386.6,240 388.4,239.9C390.1,239.8 391.9,239.8 393.6,239.9C395.4,240 397.1,240.2 398.9,240.5C400.6,240.8 402.4,241.2 404.1,241.8C405.9,242.4 407.6,243.1 409.4,243.8C411.1,244.5 412.8,245.2 414.6,245.8C416.4,246.4 418.4,246.5 420.2,247.2C422,247.9 423.8,249 425.5,249.9C427.2,250.8 428.9,251.6 430.7,252.5C432.4,253.4 434.5,254 436,255.1C437.5,256.2 438.6,257.6 439.9,259.1C441.2,260.6 442.6,262.3 443.9,264.3C445.2,266.3 446.5,268.5 447.8,270.9C449.1,273.3 450.6,276 451.7,278.7C452.8,281.4 453.5,284.4 454.2,287C454.9,289.6 455.4,291.8 456.1,294C456.8,296.2 457.6,298.1 458.3,300C459,301.9 459.8,303.8 460.5,305.5C461.2,307.2 462.1,309.1 462.8,310.5C463.6,311.9 464.2,312.8 465,314C465.8,315.2 466.5,316.3 467.5,318C468.5,319.7 470,322.2 471.1,324C472.2,325.8 473.2,327.4 474.3,329C475.4,330.6 476.4,332.2 477.5,333.5C478.6,334.8 479.4,335.8 480.7,336.7C482,337.6 484.4,338.6 485.5,339C486.6,339.4 487,339.2 487.3,339.3M84,69.8C84.8,71.5 87.6,77.1 88.9,80.3C90.2,83.5 91,86.1 92,88.9C93,91.7 94,94.1 95.1,96.9C96.2,99.7 97.4,103 98.5,105.8C99.6,108.6 100.5,111.1 101.5,113.8C102.5,116.5 103.8,119.8 104.6,121.8C105.4,123.8 105.6,124.1 106.4,126C107.2,127.9 108.5,131.2 109.5,133.4C110.5,135.7 111.6,137.6 112.6,139.5C113.6,141.4 114.7,143.6 115.7,145.1C116.7,146.6 117.7,147.5 118.7,148.7C119.7,149.9 120.9,151.3 121.8,152.4C122.7,153.5 123.2,154.5 124,155.5C124.8,156.5 125.6,157.6 126.5,158.6C127.4,159.6 128.5,160.5 129.5,161.7C130.5,162.8 131.4,164.2 132.5,165.5C133.6,166.8 134.9,168 136.3,169.7C137.8,171.4 139.9,174.1 141.2,175.8C142.5,177.5 143.2,178.7 144.3,180.1C145.4,181.5 146.3,182.9 147.5,184.5C148.7,186.1 150.4,188.4 151.2,189.5C151.9,190.6 151.2,190.5 152,190.8C152.8,191.1 154.5,191.3 155.7,191.4C156.9,191.5 158.2,191.5 159.4,191.4C160.6,191.3 161.9,191 163.1,190.8C164.3,190.6 165.6,190.2 166.8,190.2C168,190.2 169.2,190.5 170.4,190.8C171.6,191.1 172.9,191.6 174.1,192C175.3,192.4 176.5,192.8 177.8,193.3C179.1,193.8 180.8,193.9 182,195.1C183.2,196.3 183.6,198.8 185.2,200.6C186.8,202.4 189.6,204.4 191.7,205.9C193.8,207.4 195.9,208.1 197.6,209.6C199.2,211.1 200.1,213.2 201.6,214.9C203.1,216.7 205.1,219.1 206.8,220.1C208.6,221.1 210.6,220.8 212.1,220.8C213.6,220.8 214.7,221.3 216,220.1C217.3,218.9 218.6,215.8 219.9,213.6C221.2,211.4 222.4,209.8 223.9,207C225.4,204.2 227.3,199.8 229.1,196.5C230.8,193.2 232.7,190.2 234.4,187.3C236.2,184.5 237.8,181.4 239.6,179.4C241.4,177.4 243.9,176.2 245,175.5C246.1,174.8 245,174.6 246.2,175C247.4,175.4 250.6,177.4 252.1,178.2C253.6,179 254,178.8 255,180C256,181.2 257.2,183.3 258.3,185.5C259.4,187.7 260.5,190.1 261.5,193C262.5,195.9 263.3,199.5 264.3,203C265.3,206.5 266.4,210.6 267.3,213.9C268.2,217.2 268.8,219 269.5,222.6C270.2,226.2 270.8,231.4 271.6,235.5C272.4,239.6 273.6,243.7 274.3,246.9C275,250.1 275.4,252.3 276,254.8C276.6,257.3 277.2,259.5 277.8,261.8C278.4,264.1 278.9,266.8 279.5,268.9C280.1,270.9 280.7,272.7 281.3,274.1C281.9,275.6 282.3,276.2 283,277.6C283.7,279 284.3,281.2 285.5,282.5C286.7,283.8 288.6,285.4 290.1,285.3C291.6,285.2 292.9,284.6 294.5,281.8C296.1,279 298,272.2 299.7,268.7C301.4,265.2 303.5,262.6 304.9,260.9C306.3,259.1 306.9,258.1 308.2,258.2C309.5,258.3 311.1,260.4 312.8,261.5C314.5,262.6 316.4,263.8 318.1,264.8C319.9,265.8 322.2,266.8 323.3,267.4C324.4,268 323.4,268.3 325,268.7C326.6,269.1 330.3,269.8 332.9,270C335.5,270.2 338.1,269.8 340.7,270C343.3,270.2 346,270.9 348.6,271.4C351.2,271.8 354.1,272.3 356.5,272.7C358.9,273.1 360.9,273.7 363.1,274C365.4,274.3 368,275.2 370,274.5C372,273.8 373.4,271.2 375.2,270C376.9,268.8 378.8,268 380.5,267.4C382.2,266.8 383.9,266.4 385.7,266.1C387.4,265.8 389.2,265.6 391,265.5C392.8,265.4 394.4,265.4 396.2,265.5C397.9,265.6 399.8,265.7 401.5,266.1C403.2,266.5 404.9,267.2 406.7,268.1C408.4,269 410.2,270.4 412,271.4C413.8,272.4 415.8,273.4 417.2,274C418.6,274.6 418.8,274.2 420.2,274.8C421.6,275.4 423.8,276.3 425.5,277.4C427.2,278.5 428.9,280.1 430.7,281.4C432.4,282.7 434.8,284.3 436,285.3C437.2,286.3 436.9,286.6 438,287.5C439.1,288.4 441.3,289.7 442.4,290.5C443.5,291.3 443.8,291.2 444.5,292.5C445.2,293.8 446,296.6 446.8,298.5C447.6,300.4 448.5,302.4 449.3,304.2C450.1,306 451,307.7 451.8,309.5C452.6,311.3 453.5,313 454.4,315C455.3,317 456.1,319.2 457,321.3C457.9,323.4 458.9,325.5 460,327.5C461.1,329.5 462.6,331.3 463.8,333.5C465,335.7 465.8,338.2 467,340.7C468.2,343.2 469.9,346.3 471.1,348.7C472.3,351.1 473.1,353.3 474.3,355.2C475.5,357.1 477,358.9 478.3,360C479.6,361.1 481.1,361.5 482.3,362C483.5,362.5 484.7,362.9 485.5,363.2C486.3,363.4 487,363.4 487.3,363.5" stroke="#ffa500" stroke-width="1.7"/>
<path d="M84,38.3C84.5,40.1 86,45.5 87,49C88,52.5 89,56.3 90.1,59.6C91.2,62.9 92.5,66.2 93.5,68.8C94.5,71.4 94.9,72.7 96,75.3C97.1,77.9 98.6,81.4 100,84.6C101.4,87.8 103.4,92 104.3,94.4C105.2,96.8 104.9,97.4 105.5,99C106.1,100.6 106.8,101.9 107.7,104C108.6,106.1 109.8,109.1 110.8,111.4C111.8,113.8 112.8,116.2 113.8,118.1C114.8,120 116,121.6 116.9,123C117.8,124.4 118.5,125.5 119.4,126.7C120.3,127.9 121.5,129.2 122.4,130.4C123.3,131.6 124,132.8 124.9,134.1C125.8,135.4 126.6,136.8 127.7,138.4C128.8,140 130.3,142 131.4,143.4C132.5,144.8 133.4,145.8 134.4,147C135.4,148.2 136.5,149.5 137.5,150.7C138.5,151.9 139.6,153.2 140.6,154.4C141.6,155.6 142.7,157 143.7,158.1C144.7,159.2 145.7,160.1 146.5,161C147.3,161.9 147.9,162.8 148.6,163.5C149.2,164.2 149.8,165 150.4,165.2C151,165.4 151.6,165.1 152.3,164.8C153,164.5 154,164.2 154.5,163.5C155,162.8 154.5,161.7 155.1,160.7C155.7,159.7 157.1,158.4 158.1,157.7C159.1,157 160.3,156.4 161.2,156.4C162.1,156.4 163,156.8 163.7,157.7C164.4,158.6 165,160.5 165.5,162C166,163.5 166.4,165.2 166.8,166.9C167.2,168.6 167.5,170 168,172C168.5,174 169.3,177.1 170,179C170.7,180.9 171.1,182 172.1,183.6C173.1,185.2 174.5,188.3 176,188.8C177.5,189.3 179.7,187.2 181.2,186.8C182.7,186.4 183.9,186.1 185.2,186.2C186.5,186.3 187.8,187.3 189.1,187.5C190.4,187.7 191.7,188.2 193,187.5C194.3,186.8 195.7,185.1 197,183.6C198.3,182.1 199.6,179.4 200.9,178.3C202.2,177.2 203.5,176.9 205,177C206.5,177.1 208.2,178.8 210,179C211.8,179.2 214.3,179.4 216,178.5C217.7,177.6 218.7,175.9 220,173.5C221.3,171.1 222.5,167.3 224,164C225.5,160.7 227.3,156.3 229,153.5C230.7,150.7 232.3,149.2 234,147C235.7,144.8 237.5,142.2 239,140.5C240.5,138.8 241.8,138 243,137C244.2,136 245.1,134.2 246.2,134.5C247.3,134.8 248.3,136.6 249.4,138.5C250.5,140.4 251.6,143.2 252.7,146C253.8,148.8 254.9,152.8 256,155C257.1,157.2 258.2,159.2 259.3,159C260.4,158.8 261.4,156.3 262.6,154C263.8,151.7 265.3,147.2 266.5,145C267.7,142.8 268.8,140.8 269.8,140.5C270.8,140.2 271.6,141.2 272.4,143.5C273.2,145.8 273.9,150.2 274.4,154C274.9,157.8 275,161.5 275.2,166C275.4,170.5 275.4,175.2 275.5,181C275.6,186.8 275.6,193.5 275.6,201C275.7,208.5 275.6,218.9 275.8,226C276,233.1 276.3,238 276.6,243.5C276.9,249 277.2,254.8 277.6,259C278,263.2 278.5,266 279,269C279.5,272 280,275.2 280.5,277C281,278.8 281.7,280 282.2,280C282.7,280 283,278.8 283.5,277C284,275.2 284.3,271.6 285,269C285.7,266.4 286.7,263.4 287.6,261.2C288.5,259 289.2,258.7 290.3,255.7C291.4,252.7 293.1,246.6 294.3,243.2C295.5,239.8 296.4,237.6 297.3,235C298.2,232.4 299,230.2 299.9,227.8C300.8,225.4 301.5,222.6 302.4,220.7C303.2,218.8 304.1,217.5 305,216.6C305.9,215.7 306.7,215.3 307.6,215.5C308.5,215.7 309.6,216.7 310.6,217.6C311.6,218.5 312.5,219.9 313.7,220.7C314.9,221.5 316.2,221.8 317.8,222.2C319.4,222.6 320.9,223.4 323,223.2C325.1,223 328.1,221.9 330.2,221C332.3,220.1 334.2,218.4 335.5,217.8C336.8,217.2 336.8,217.5 338.1,217.5C339.4,217.5 341.6,217.1 343.4,218C345.1,218.9 347.1,220.9 348.6,222.8C350.1,224.7 351.3,227.2 352.6,229.4C353.9,231.6 355.2,234.2 356.5,235.9C357.8,237.7 359.1,238.8 360.4,239.9C361.7,241 362.9,241.6 364.4,242.5C365.9,243.4 367.8,244.2 369.6,245.1C371.4,246 373.4,246.9 375.2,247.7C377,248.5 378.8,249.5 380.5,249.7C382.2,249.9 383.9,249.6 385.7,249.1C387.4,248.6 389.2,247.5 391,246.4C392.8,245.3 394.4,243.6 396.2,242.5C397.9,241.4 399.8,240.7 401.5,239.9C403.2,239.1 404.9,238.5 406.7,237.9C408.4,237.3 410.6,236.7 412,236.6C413.4,236.5 413.6,237.4 415,237.5C416.4,237.6 418.4,237.2 420.2,237.4C421.9,237.6 424,238.1 425.5,238.7C427,239.2 428.1,239.7 429.4,240.7C430.7,241.7 432.1,243.1 433.4,244.6C434.7,246.1 436,247.9 437.3,249.9C438.6,251.9 439.9,254 441.2,256.4C442.5,258.8 443.9,261.4 445.2,264.3C446.5,267.2 447.9,270.4 449.1,273.5C450.3,276.6 451.6,280.3 452.5,283C453.4,285.7 453.8,287.6 454.4,289.5C455,291.4 455.5,292.6 456.1,294.4C456.8,296.2 457.6,298.2 458.3,300.1C459,302 459.8,304.1 460.5,305.8C461.2,307.6 461.7,309 462.3,310.6C462.9,312.2 463.4,313.4 464.2,315.5C465,317.6 466,320.7 467,323C468,325.3 469.2,327.6 470.3,329.5C471.4,331.4 472.6,333.1 473.5,334.3C474.4,335.5 475.1,336 476,336.7C476.9,337.4 478,338.1 479,338.6C480,339.1 480.6,339.5 482,339.8C483.4,340.1 486.4,340.1 487.3,340.2M84,70C84.7,71.7 86.7,76.5 88,80C89.3,83.5 90.7,87.5 92,91C93.3,94.5 94.7,97.8 96,101C97.3,104.2 98.6,107.2 99.7,110.5C100.8,113.8 102,117.9 102.8,120.6C103.6,123.3 103.8,124.4 104.5,126.5C105.2,128.6 106.2,131 107.1,133.4C108,135.8 109.1,138.7 110.1,140.8C111.1,143 112.2,144.7 113.2,146.3C114.2,147.9 115.3,149.2 116.3,150.6C117.3,152 118.4,153.4 119.4,154.9C120.4,156.4 121.6,158.8 122.4,159.8C123.2,160.8 123.2,160 124,161.1C124.8,162.2 126.1,165 127.1,166.6C128.1,168.2 129.1,169.6 130.1,170.9C131.1,172.2 132.2,173.3 133.2,174.6C134.2,175.9 135.2,177.6 136.3,178.9C137.4,180.2 138.8,181.6 140,182.6C141.2,183.6 142.5,184.3 143.7,185C144.9,185.7 146.2,186.4 147.4,186.9C148.6,187.4 149.9,188 151,188.1C152.1,188.2 153.2,188.4 154,187.5C154.8,186.6 154.9,184.1 155.7,182.8C156.5,181.5 157.9,180.5 158.8,179.8C159.7,179.1 160.4,178.7 161.2,178.8C162,178.9 162.9,179.4 163.7,180.4C164.5,181.4 165.1,182.6 166.1,184.7C167.1,186.8 168.2,189.1 169.4,192.7C170.6,196.2 172.3,202.8 173.4,206C174.5,209.2 175.1,211.2 176.2,212C177.3,212.8 178.7,210.8 180,210.5C181.3,210.2 182.7,210 184,210C185.3,210 186.8,210.4 188,210.5C189.2,210.6 190.3,211.2 191.5,210.4C192.7,209.6 193.7,206.9 195,205.5C196.3,204.1 198.3,203.1 199.6,202C200.9,200.9 201.6,199.7 203,199C204.4,198.3 206.3,197.9 208,198C209.7,198.1 211.8,199.4 213.4,199.5C215,199.6 216,199.6 217.3,198.8C218.6,198.1 219.9,197.1 221.2,195C222.5,192.9 223.9,189.1 225.2,186C226.5,182.9 227.8,179.6 229.1,176.5C230.4,173.4 231.6,170.2 233.1,167.5C234.6,164.8 236.5,162.3 238.1,160.4C239.7,158.5 241.6,157.5 242.9,156.3C244.2,155.1 245.1,153 246.2,153C247.3,153 248.3,154.3 249.4,156.3C250.5,158.3 251.6,161.9 252.7,164.8C253.8,167.8 255,171.6 256,174C257,176.4 257.7,178.8 258.6,179.2C259.5,179.6 260.2,178.6 261.2,176.6C262.2,174.6 263.4,170 264.5,167.4C265.6,164.8 266.8,161.8 267.8,160.9C268.8,160 269.5,160.7 270.4,162.2C271.3,163.7 272.4,167.3 273.1,170.1C273.8,172.9 274,175.5 274.4,179C274.8,182.5 275,185.7 275.2,191C275.4,196.3 275.4,204.3 275.5,211C275.6,217.7 275.5,225.2 275.7,231C275.9,236.8 276.4,241 276.8,246C277.2,251 277.4,256.8 277.8,261.1C278.2,265.4 278.7,268.7 279.1,271.6C279.5,274.5 280,275.5 280.4,278.6C280.8,281.7 281.2,286.9 281.5,290C281.8,293.1 282,296.3 282.3,297.5C282.6,298.7 283.1,298.2 283.5,297C283.9,295.8 284.4,293 285,290C285.6,287 286.2,282.4 287.4,279C288.6,275.6 290.9,272.8 292.2,269.8C293.5,266.8 294.3,264.2 295.3,261.2C296.3,258.2 297.3,255.1 298.3,252C299.3,248.9 300.4,245.5 301.4,242.8C302.4,240.1 303.5,237 304.5,235.6C305.5,234.2 306.6,234.2 307.6,234.6C308.6,234.9 309.6,236.7 310.6,237.7C311.6,238.7 312.5,239.8 313.7,240.7C314.9,241.6 316.2,242.6 317.8,243.3C319.4,244 320.9,244.5 323,244.8C325.1,245.1 328.3,245.5 330.2,244.9C332.1,244.3 332.4,241.8 334.2,241C335.9,240.2 338.7,239 340.7,239.9C342.7,240.8 344.5,244.2 346,246.4C347.5,248.6 348.6,250.6 349.9,253C351.2,255.4 352.6,258.3 353.9,260.9C355.2,263.5 356.5,266.5 357.8,268.7C359.1,270.9 360.4,272.5 361.7,274C363,275.5 364.4,277 365.7,277.9C367,278.8 368.1,278.9 369.6,279.2C371.2,279.5 373.2,279.7 375,279.5C376.8,279.3 378.7,278.6 380.5,277.9C382.3,277.2 383.9,276.3 385.7,275.3C387.4,274.3 389.2,273 391,272C392.8,271 394.4,270.2 396.2,269.4C397.9,268.6 399.8,268 401.5,267.4C403.2,266.8 404.9,266.1 406.7,265.5C408.4,264.9 410.6,263.8 412,263.5C413.4,263.2 413.6,263.9 415,264C416.4,264.1 418.4,264.1 420.2,264.3C421.9,264.5 424,264.6 425.5,265C427,265.4 428.1,265.7 429.4,266.9C430.7,268.1 432.1,270.2 433.4,272.2C434.7,274.2 436,276.5 437.3,278.7C438.6,280.9 440.1,283.2 441.2,285.3C442.3,287.4 443,288.8 443.9,291C444.8,293.2 445.6,296.6 446.5,298.8C447.4,301 448.2,302.6 449.1,304.4C450,306.2 450.9,307.9 451.8,309.7C452.7,311.5 453.6,313.5 454.4,315.4C455.2,317.3 455.9,319.1 456.5,321C457.1,322.9 457.4,324.5 458.2,327C459,329.5 460.3,333.1 461.4,335.9C462.5,338.7 463.5,341.4 464.6,343.9C465.7,346.4 466.8,349 467.9,351.1C469,353.2 470.2,355.3 471.1,356.8C472,358.3 472.4,359.1 473.5,360.3C474.6,361.5 476.3,363.1 477.5,364C478.7,364.9 479.6,365.4 480.7,365.6C481.8,365.8 482.8,365.5 483.9,365.2C485,364.9 486.7,363.9 487.3,363.6" stroke="#006400" stroke-width="1.7"/>
<path d="M84,41.3C84.5,42.6 86,46 87,49C88,52 89,56.1 90.1,59.5C91.2,62.9 92.7,66.2 93.8,69.2C94.9,72.2 96,74.6 96.9,77.2C97.8,79.8 98.7,82.3 99.4,84.6C100.1,86.8 100.6,88.7 101.2,90.7C101.8,92.8 102.5,94.5 103.1,96.9C103.7,99.3 103.8,102.3 104.6,105.2C105.4,108.1 106.7,111.4 107.7,114.4C108.7,117.4 109.9,120.6 110.8,123C111.7,125.4 112.5,127.5 113.2,128.6C113.9,129.7 114.3,129.8 115.1,129.5C115.9,129.2 117,127.6 118.1,126.7C119.2,125.8 120.7,124.6 121.8,124.3C122.9,124 124.1,124.1 124.9,124.9C125.7,125.7 125.8,127.5 126.5,129.2C127.2,130.8 128.1,132.9 128.9,134.8C129.7,136.8 130.7,139 131.4,140.9C132.1,142.8 132.6,144.8 133.2,146.4C133.8,148 134.4,149.5 135.1,150.7C135.8,151.9 136.6,153 137.5,153.8C138.4,154.6 139.5,155.1 140.6,155.6C141.7,156.1 143.2,156.5 144.3,156.9C145.4,157.3 146.5,157.6 147.4,158.1C148.3,158.6 149,159.2 149.8,159.8C150.6,160.4 151.5,161.2 152.3,161.5C153.1,161.8 153.9,162 154.5,161.5C155.1,161 155.1,160 155.7,158.3C156.3,156.6 157.3,153.7 158.1,151.5C158.9,149.3 159.6,146.5 160.3,145C161,143.5 161.7,142.4 162.4,142.3C163.1,142.2 163.8,143.5 164.3,144.5C164.8,145.5 165.1,146.7 165.5,148.4C165.9,150.2 166.3,152.7 166.6,155C166.9,157.3 167.2,159.8 167.4,162C167.6,164.2 167.7,165.4 168,168.5C168.3,171.6 168.8,177.1 169.2,180.4C169.6,183.7 169.9,185.6 170.4,188.4C170.9,191.2 171.7,194.6 172.3,197C172.9,199.4 173.6,201.6 174.1,203.1C174.6,204.6 174.7,206.5 175.3,206C175.9,205.5 176.6,203.3 177.5,200C178.4,196.7 179.7,190.5 181,186C182.3,181.5 183.9,173.5 185.2,173C186.5,172.5 187.7,179.3 189,183C190.3,186.7 191.5,194.2 193,195C194.5,195.8 196.3,191.2 198,188C199.7,184.8 201.7,177.8 203,176C204.3,174.2 204.8,177.1 206,177.5C207.2,177.9 208.9,178.4 210.5,178.4C212.1,178.4 214.2,178.7 215.7,177.7C217.2,176.7 218.4,174.9 219.7,172.5C221,170.1 222.1,166.6 223.6,163.3C225.1,160 227.2,155.7 228.9,152.8C230.7,150 232.3,148.4 234.1,146.2C235.8,144 237.9,141.4 239.4,139.7C240.9,138 241.8,137.2 242.9,136.2C244,135.2 245.1,133.4 246.2,133.6C247.3,133.8 248.3,135.6 249.4,137.6C250.5,139.6 251.6,142.6 252.7,145.4C253.8,148.2 254.9,152.4 256,154.6C257.1,156.8 258.2,158.8 259.3,158.6C260.4,158.4 261.4,155.7 262.6,153.3C263.8,150.9 265.3,146.4 266.5,144.1C267.7,141.8 268.8,139.7 269.8,139.5C270.8,139.3 271.6,140.5 272.4,142.8C273.2,145.1 273.9,149.6 274.4,153.3C274.9,157 275,160.6 275.2,165C275.4,169.4 275.4,174.2 275.5,180C275.6,185.8 275.6,192.5 275.6,200C275.7,207.5 275.6,217.9 275.8,225C276,232.1 276.3,237 276.6,242.5C276.9,248 277.2,253.8 277.6,258C278,262.2 278.5,265 279,268C279.5,271 280,274.2 280.5,276C281,277.8 281.7,279 282.2,279C282.7,279 283,277.8 283.5,276C284,274.2 284.3,270.5 285,268C285.7,265.5 286.7,263.1 287.6,261C288.5,258.9 289.2,258.5 290.3,255.5C291.4,252.5 293.1,246.4 294.3,243C295.5,239.6 296.4,237.4 297.3,234.8C298.2,232.2 299,230 299.9,227.6C300.8,225.2 301.5,222.4 302.4,220.5C303.2,218.6 304.1,217.3 305,216.4C305.9,215.5 306.7,215.1 307.6,215.3C308.5,215.5 309.6,216.5 310.6,217.4C311.6,218.3 312.5,219.7 313.7,220.5C314.9,221.3 316.2,221.6 317.8,222C319.4,222.4 320.9,223.2 323,223C325.1,222.8 328.1,221.7 330.2,220.8C332.3,219.9 333.8,218.5 335.5,217.6C337.2,216.7 338.9,215.7 340.7,215.6C342.4,215.5 344.2,215.9 346,216.9C347.8,217.9 349.4,220.3 351.2,221.5C352.9,222.7 355,224.1 356.5,224.1C358,224.1 359.1,222.8 360.4,221.5C361.7,220.2 362.9,217.7 364.4,216.2C365.9,214.7 368,213.3 369.6,212.3C371.2,211.3 372.5,209.8 373.9,210C375.3,210.2 376.6,211.2 377.9,213.6C379.2,215.9 380.3,220.8 381.8,224.1C383.3,227.4 385.4,230.8 387.1,233.3C388.9,235.8 390.8,238.5 392.3,239.2C393.8,239.8 394.9,238.6 396.2,237.2C397.5,235.8 398.9,232.9 400.2,230.7C401.5,228.5 402.8,226.1 404.1,224.1C405.4,222.1 406.8,220 408.1,218.9C409.4,217.8 410.7,217.4 412,217.6C413.3,217.8 414.6,218.1 415.9,220C417.2,221.9 418.8,226.2 420,229C421.2,231.8 421.8,234.4 422.9,237C424,239.6 425.5,242.1 426.8,244.5C428.1,246.9 429.4,249.6 430.7,251.5C432,253.4 433.4,254.6 434.7,256C436,257.4 437.3,258.8 438.6,260C439.9,261.2 441.3,262.1 442.6,263.5C443.9,264.9 445.2,266.3 446.5,268.2C447.8,270.1 449.1,272.5 450.4,275C451.7,277.5 453.1,280.5 454.4,283C455.6,285.5 457,288.1 457.9,290C458.8,291.9 459,292.7 459.6,294.4C460.2,296.1 461.1,298.1 461.8,300.1C462.5,302.1 463.2,304.2 464,306.5C464.8,308.8 465.4,311.1 466.3,314C467.2,316.9 468.4,321.1 469.5,323.8C470.6,326.5 471.6,328.4 472.7,330.3C473.8,332.2 474.8,333.8 475.9,335.1C477,336.4 478,337.5 479.1,338.3C480.2,339.1 481.2,339.6 482.3,339.9C483.4,340.2 484.7,340.2 485.5,340.3C486.3,340.4 487,340.3 487.3,340.3L487.3,364.4C486.7,364.7 485,365.7 483.9,366C482.8,366.3 481.8,366.6 480.7,366.4C479.6,366.2 478.6,365.7 477.5,364.8C476.4,363.9 475.1,362.4 474.3,361.2C473.5,360 473.5,359.3 472.7,357.6C471.9,355.9 470.6,353.4 469.5,351.1C468.4,348.8 467.3,346.4 466.2,343.9C465.1,341.4 464.1,339 463,335.9C461.9,332.8 460.8,328.1 459.8,325C458.8,321.9 457.8,319.3 457,317.1C456.2,314.9 455.5,313.6 454.8,311.9C454.1,310.1 453.4,308.5 452.6,306.6C451.8,304.7 450.9,302.4 450,300.5C449.1,298.6 448.3,296.9 447.4,295.3C446.4,293.7 445.4,292.3 444.3,290.9C443.2,289.5 441.6,287.9 440.5,287C439.4,286.1 439.4,286.8 438,285.4C436.6,284 434,280.7 432.1,278.7C430.2,276.7 428.3,275.7 426.8,273.5C425.3,271.3 424,268.4 422.9,265.6C421.8,262.9 420.9,259.3 420,257C419.1,254.7 418.3,253.7 417.2,251.7C416.1,249.7 414.6,246.6 413.3,245.1C412,243.6 410.7,242.5 409.4,242.5C408.1,242.5 406.7,243.6 405.4,245.1C404.1,246.6 402.8,249.3 401.5,251.7C400.2,254.1 398.9,257.4 397.6,259.6C396.3,261.8 394.9,264.1 393.6,264.8C392.3,265.6 391,265 389.7,264.1C388.4,263.2 387,261.7 385.7,259.6C384.4,257.5 383.1,254.3 381.8,251.7C380.5,249.1 379,246.2 377.9,243.8C376.8,241.4 375.9,238.7 375,237.5C374.1,236.3 373.3,236.4 372.2,236.6C371.1,236.8 369.6,237.4 368.3,238.6C367,239.8 365.7,242.3 364.4,243.8C363.1,245.3 361.9,246.9 360.4,247.7C358.9,248.5 356.9,248.8 355.2,248.4C353.4,248 351.6,246.3 349.9,245.1C348.1,243.9 346.4,242.2 344.7,241.2C342.9,240.2 341.1,239.2 339.4,239.2C337.6,239.2 335.7,240.2 334.2,241.2C332.7,242.2 332.1,244.5 330.2,245.1C328.3,245.7 325.1,245.3 323,245C320.9,244.7 319.4,244.2 317.8,243.5C316.2,242.8 314.9,241.8 313.7,240.9C312.5,240 311.6,238.9 310.6,237.9C309.6,236.9 308.6,235.2 307.6,234.8C306.6,234.5 305.5,234.4 304.5,235.8C303.5,237.2 302.4,240.3 301.4,243C300.4,245.7 299.3,249.1 298.3,252.2C297.3,255.3 296.3,258.4 295.3,261.4C294.3,264.4 292.9,268.6 292.2,270C291.5,271.4 292,268.3 291.2,270C290.4,271.7 288.4,276.5 287.4,280C286.4,283.5 285.6,288 285,291C284.4,294 283.9,296.8 283.5,298C283.1,299.2 282.6,299.8 282.3,298.5C282,297.2 281.8,293.5 281.5,290C281.2,286.5 280.8,280.8 280.4,277.6C280,274.4 279.5,273.5 279.1,270.6C278.7,267.7 278.2,264.4 277.8,260.1C277.4,255.8 277.2,250 276.8,245C276.4,240 275.9,235.8 275.7,230C275.5,224.2 275.6,216.7 275.5,210C275.4,203.3 275.4,195.3 275.2,190C275,184.7 274.8,181.5 274.4,178C274,174.5 273.8,171.9 273.1,169.1C272.4,166.3 271.3,162.7 270.4,161.2C269.5,159.7 268.8,159 267.8,159.9C266.8,160.8 265.6,163.8 264.5,166.4C263.4,169 262.2,173.6 261.2,175.6C260.2,177.6 259.5,178.6 258.6,178.2C257.7,177.8 257,175.4 256,173C255,170.6 253.8,166.8 252.7,163.8C251.6,160.9 250.5,157.3 249.4,155.3C248.3,153.3 247.3,152 246.2,152C245.1,152 244.2,154.1 242.9,155.3C241.6,156.5 239.7,157.5 238.1,159.4C236.5,161.3 234.6,163.8 233.1,166.5C231.6,169.2 230.4,172.5 229.1,175.5C227.8,178.5 226.5,181.6 225.2,184.7C223.9,187.8 222.5,191.7 221.2,193.9C219.9,196.1 218.6,197 217.3,197.8C216,198.6 214.9,198.6 213.4,198.5C211.9,198.4 209.8,197.6 208.1,197.2C206.3,196.8 204.2,195.6 202.9,195.8C201.6,196 200.9,197.4 200.2,198.5C199.5,199.6 199.2,200.9 198.5,202.5C197.8,204.1 196.8,205.9 195.9,207.8C195,209.7 194,213.1 193.3,214C192.6,214.9 192.2,214.2 191.5,213C190.8,211.8 189.9,209.5 188.9,206.9C187.9,204.3 186.3,198.8 185.4,197.3C184.5,195.8 184.3,196.5 183.6,198.1C182.9,199.7 182,202.9 181,206.9C180,210.9 178.6,217.6 177.5,221.8C176.4,226 175.2,233 174.4,232C173.6,231 173.2,221 172.7,216C172.1,211 171.6,205.5 171.1,201.9C170.6,198.3 170.3,197.3 169.8,194.5C169.3,191.7 168.8,188.2 168.3,185.3C167.8,182.4 167.4,179.7 166.8,177.3C166.2,174.9 165.6,172.6 164.9,171.1C164.2,169.6 163.5,168.3 162.8,168.1C162.1,167.9 161.4,168.7 160.6,169.9C159.8,171.1 159,173.2 158.1,175.4C157.2,177.7 155.8,181.4 155.1,183.4C154.4,185.4 154.6,186.9 154,187.5C153.4,188.1 152.6,187.3 151.7,186.9C150.8,186.5 149.7,185.7 148.6,185C147.5,184.3 146.1,183.2 144.9,182.6C143.7,182 142.4,181.9 141.2,181.3C140,180.7 138.6,180 137.5,178.9C136.4,177.8 135.4,176.1 134.4,174.6C133.4,173.1 132.3,171.5 131.4,169.7C130.5,167.8 129.7,165.7 128.9,163.5C128.1,161.3 127,158 126.5,156.8C126,155.6 126.3,157.1 126.2,156.4C126.1,155.7 126.4,153.4 126,152.4C125.6,151.4 124.6,151.1 123.7,150.6C122.8,150.1 121.6,149.5 120.6,149.7C119.6,149.9 118.3,150.8 117.5,151.8C116.7,152.8 116.3,154.1 115.7,155.5C115.1,156.9 114.5,159.2 113.8,160.4C113.1,161.6 112.2,163.2 111.4,162.9C110.6,162.6 109.6,160.4 108.9,158.6C108.2,156.8 107.7,154.2 107.1,151.8C106.5,149.4 105.8,147.2 105.2,144.4C104.6,141.6 104.1,138 103.7,135.2C103.3,132.4 103.1,129.9 102.6,127.5C102.1,125.1 101.6,123.3 100.9,120.6C100.2,117.9 99.3,114.3 98.5,111.4C97.7,108.5 96.8,105.8 96,103.4C95.2,101 94.6,99.2 93.8,96.9C93,94.6 92.2,92 91.4,89.5C90.6,87 89.7,84.4 88.9,82.1C88.1,79.8 87.3,77.5 86.5,75.4C85.7,73.3 84.4,70.6 84,69.6Z" stroke="#14a0d2" stroke-width="1.9"/>
</g>
</g>
<!-- AXES -->
<g font-size="14.5" text-anchor="end">
<text x="75.3" y="56.9">1,400</text>
<text x="75.3" y="107.4">1,350</text>
<text x="75.3" y="157.9">1,300</text>
<text x="75.3" y="208.4">1,250</text>
<text x="75.3" y="258.9">1,200</text>
<text x="75.3" y="309.4">1,150</text>
<text x="75.3" y="359.8">1,100</text>
</g>
<g font-size="14.5" text-anchor="middle">
<text x="83.6" y="423.2">650</text>
<text x="161.2" y="423.2">700</text>
<text x="238.6" y="423.2">750</text>
<text x="316" y="423.2">800</text>
<text x="393.4" y="423.2">850</text>
<text x="470.8" y="423.2">900</text>
</g>
<text x="233" y="442.4" font-size="14.5" textLength="94.8">Date (years <tspan font-size="10.5">AD</tspan>)</text>
<text transform="translate(12.4,283) rotate(-90)" font-size="14.5" textLength="116.4">Age (<tspan font-size="11" dy="-4.6">14</tspan><tspan dy="4.6">C years </tspan><tspan font-size="10.5">BP</tspan>)</text>
<text x="179.5" y="354.5" font-size="10.5">AD</text>
<text x="198.3" y="354.5" font-size="14.5" textLength="55.8">775 SPE</text>
<path d="M259.2,349.4H269" stroke="#111" stroke-width="1.2"/>
<path d="M273.9,349.4L267.4,346.6L269.2,349.4L267.4,352.2Z" fill="#111"/>
<!-- LEGEND -->
<rect x="291" y="11" width="16" height="18" fill="#cdebf3"/>
<path d="M291,12H307M291,28H307" stroke="#0f9ad2" stroke-width="2"/>
<rect x="291" y="34" width="16" height="18" fill="#5a9a5a"/>
<path d="M291,35H307M291,51H307" stroke="#006400" stroke-width="2"/>
<rect x="291" y="56.5" width="16" height="17.5" fill="#fdbf55"/>
<path d="M291,57.5H307M291,73H307" stroke="#ffa500" stroke-width="2"/>
<rect x="294.6" y="82.9" width="9.2" height="9" fill="#0a9bd0" stroke="#111" stroke-width="1.1"/>
<g font-size="14.5">
<text x="313" y="26.6">Aarhus curve</text>
<text x="313" y="49.2">IntCal20</text>
<text x="313" y="71.8">IntCal13</text>
<text x="313.8" y="94.4"><tspan font-size="10.2" dy="-5.2">14</tspan><tspan dy="5.2">C annual tree rings</tspan></text>
</g>
<!-- BOTTOM LABELS -->
<g font-size="14.5" text-anchor="end">
<text transform="translate(94.7,461.5) rotate(-90)" textLength="218.1">630–651, Early Islamic conquests</text>
<text transform="translate(157.9,461.5) rotate(-90)" textLength="223.5">690, Growth of North Sea emporia</text>
<text transform="translate(233.9,461.5) rotate(-90)" textLength="207.6">750, Abbasid caliphate founded</text>
<text transform="translate(271.2,461.5) rotate(-90)" textLength="180.3">768, Charlemagne crowned</text>
<text transform="translate(313.3,461.5) rotate(-90)" textLength="212.4">793, Viking attack on Lindisfarne</text>
<text transform="translate(330.1,461.5) rotate(-90)" textLength="191.5">839, Scandinavians/Russians</text>
<text transform="translate(346.7,461.5) rotate(-90)" textLength="139.1">reach Constantinople</text>
<text transform="translate(389.7,461.5) rotate(-90)" textLength="144.6">840, Frankish civil war</text>
<text transform="translate(406.2,461.5) rotate(-90)" textLength="222.2">861, Anarchy in Abbasid caliphate</text>
<text transform="translate(423.0,461.5) rotate(-90)" textLength="187.1">865, ‘Great Army’ in England</text>
<text transform="translate(439.8,461.5) rotate(-90)" textLength="200.1">870, First settlement in Iceland</text>
</g>
</svg>
</body></html>
